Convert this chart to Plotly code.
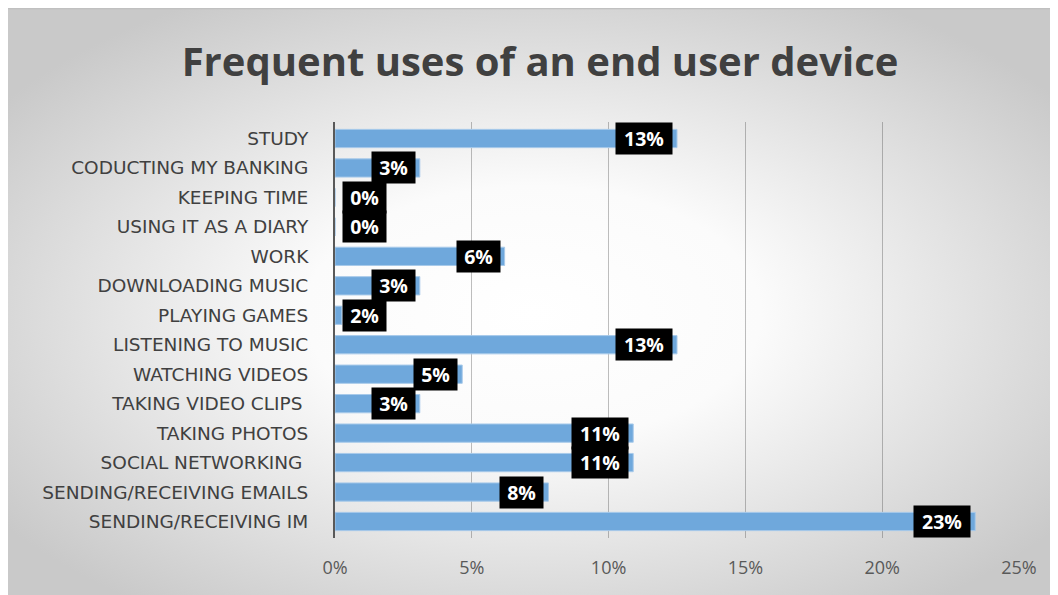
import base64
import plotly.graph_objects as go

categories = ["STUDY", "CODUCTING MY BANKING", "KEEPING TIME", "USING IT AS A DIARY", "WORK",
              "DOWNLOADING MUSIC", "PLAYING GAMES", "LISTENING TO MUSIC", "WATCHING VIDEOS",
              "TAKING VIDEO CLIPS ", "TAKING PHOTOS", "SOCIAL NETWORKING ",
              "SENDING/RECEIVING EMAILS", "SENDING/RECEIVING IM"]
values = [12.5, 3.1, 0.0, 0.0, 6.2, 3.1, 0.25, 12.5, 4.65, 3.1, 10.9, 10.9, 7.8, 23.4]
labels = ["13%", "3%", "0%", "0%", "6%", "3%", "2%", "13%", "5%", "3%", "11%", "11%", "8%", "23%"]
x_ticks = [0, 5, 10, 15, 20, 25]
x_tick_text = ["0%", "5%", "10%", "15%", "20%", "25%"]

OFF = 8  # page offset of the figure inside the browser window
W, H = 1058 - OFF, 595 - OFF
L, T = 335 - OFF, 122 - OFF
R = W - (1019 - OFF)
B = H - (538 - OFF)
pw = W - L - R
ph = H - T - B

svg = '''<svg xmlns="http://www.w3.org/2000/svg" width="1050" height="587" viewBox="0 0 1050 587" preserveAspectRatio="none">
<defs><radialGradient id="g" cx="50%" cy="52%" r="62%">
<stop offset="0" stop-color="#ffffff"/><stop offset="0.35" stop-color="#fbfbfb"/><stop offset="1" stop-color="#c9c9c9"/></radialGradient></defs>
<rect x="0" y="0" width="1050" height="587" fill="url(#g)"/>
<line x1="0" y1="0.5" x2="1050" y2="0.5" stroke="#c0c0c0" stroke-width="1.5"/>
</svg>'''
src = "data:image/svg+xml;base64," + base64.b64encode(svg.encode()).decode()

fig = go.Figure()
fig.add_trace(go.Bar(
    y=categories, x=values, orientation="h",
    marker=dict(color="#6fa8dc", line=dict(color="#a8caea", width=1)),
    hoverinfo="skip",
))

annotations = []
for cat, v, lab in zip(categories, values, labels):
    w = 13 * len(lab) + 13
    bar_px = v / 25 * pw
    if bar_px < w + 10:
        ann = dict(x=0, xanchor="left", xshift=7)
    else:
        ann = dict(x=v, xanchor="right", xshift=-4)
    ann.update(y=cat, xref="x", yref="y", text=f"<b>{lab}</b>", showarrow=False,
               font=dict(family="Open Sans", size=19.5, color="white"), bgcolor="black",
               width=w, height=27, borderpad=2, yanchor="middle", yshift=0)
    annotations.append(ann)

fig.update_layout(
    width=W, height=H,
    margin=dict(l=L, r=R, t=T, b=B),
    paper_bgcolor="white", plot_bgcolor="rgba(0,0,0,0)",
    bargap=0.38,
    showlegend=False,
    title=dict(text="<b>Frequent uses of an end user device</b>", x=(540 - OFF) / W, xanchor="center",
               y=1 - (62 - OFF) / H, yanchor="middle",
               font=dict(family="Open Sans", size=40, color="#404040")),
    xaxis=dict(range=[0, 25], tickvals=x_ticks, ticktext=x_tick_text, showgrid=True,
               gridcolor="rgba(70,70,70,0.35)", gridwidth=1, zeroline=False,
               showline=False, ticks="", ticklabelstandoff=17,
               tickfont=dict(family="Open Sans", size=18, color="#595959")),
    yaxis=dict(autorange="reversed", showgrid=False, showline=True, linecolor="#595959",
               linewidth=2, ticks="", ticklabelstandoff=21,
               tickfont=dict(family="DejaVu Sans", size=18.5, color="#404040")),
    annotations=annotations,
    images=[dict(source=src, xref="paper", yref="paper",
                 x=-L / pw, y=1 + T / ph, sizex=W / pw, sizey=H / ph,
                 xanchor="left", yanchor="top", sizing="stretch", layer="below")],
)

fig.write_html("out.html")
